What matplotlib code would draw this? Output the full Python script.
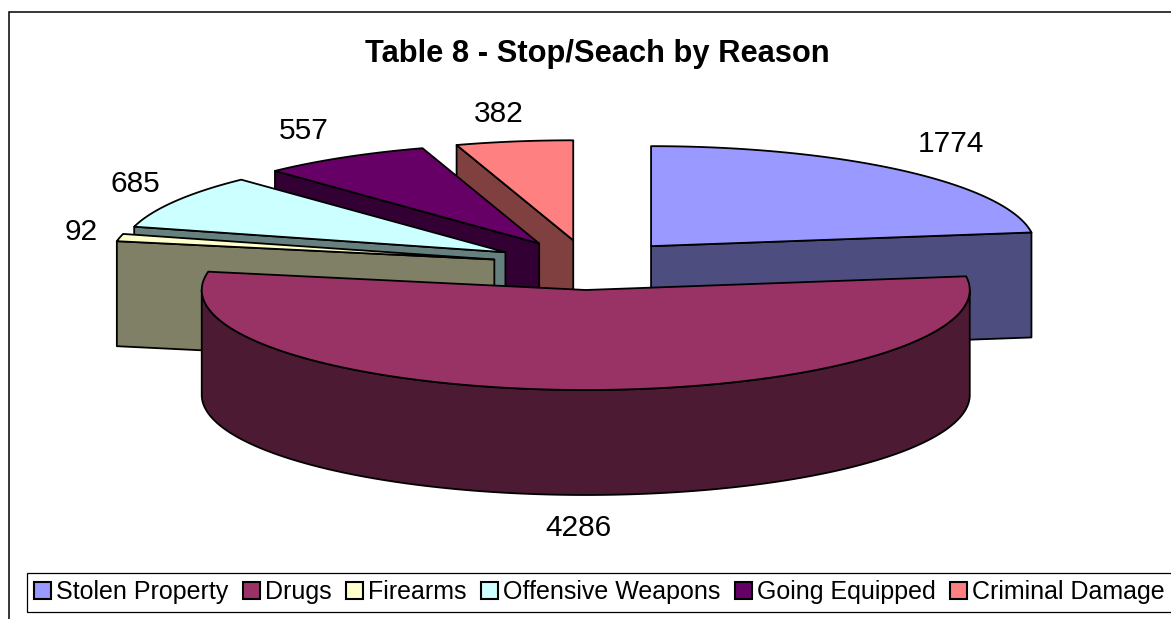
#!/usr/bin/env python3

import numpy as np
import matplotlib
matplotlib.use("Agg")
import matplotlib.pyplot as plt
from matplotlib.patches import Polygon, Rectangle, Patch
plt.rcParams["font.family"] = ["Liberation Sans", "DejaVu Sans"]

title = "Table 8 - Stop/Seach by Reason"
reasons = ["Stolen Property", "Drugs", "Firearms", "Offensive Weapons",
           "Going Equipped", "Criminal Damage"]
counts = [1774, 4286, 92, 685, 557, 382]
top_colors = ["#9999FF", "#993366", "#FFFFCC", "#CCFFFF", "#660066", "#FF8080"]
side_colors = ["#4D4D80", "#4D1A33", "#808066", "#668080", "#330033", "#804040"]

# pie geometry, in pixels of the picture
cx, cy = 588, 265
rx, ry = 384, 100
depth = 105
explode = 0.25
lw = 1.3

# where the number sits relative to the slice's rim
label_dx = [48, 2, -39, -40, -40, -15]
label_dy = [-27, 138, -6, -17, -26, -27]
drawing_order = [5, 4, 3, 2, 0, 1]


def rim(apex, angles):
    # angles are clockwise from 12 o'clock, in degrees
    t = np.radians(angles)
    return np.column_stack([apex[0] + rx * np.sin(t), apex[1] - ry * np.cos(t)])


def add_poly(ax, pts, color):
    ax.add_patch(Polygon(pts, closed=True, facecolor=color, edgecolor="black",
                         linewidth=lw, joinstyle="round"))


def plot_pie():
    fig = plt.figure(figsize=(11.71, 6.19), dpi=100)
    ax = fig.add_axes([0, 0, 1, 1])
    ax.set_xlim(0, 1171)
    ax.set_ylim(619, 0)
    ax.axis("off")

    # chart border runs off the right and bottom of the picture
    ax.add_patch(Rectangle((8.5, 12), 1200, 700, facecolor="white",
                           edgecolor="black", linewidth=1.1))

    edges = np.concatenate([[0], np.cumsum(counts)]) * 360 / sum(counts)

    for i in drawing_order:
        a0, a1 = edges[i], edges[i + 1]
        mid = np.radians((a0 + a1) / 2)
        apex = (cx + explode * rx * np.sin(mid), cy - explode * ry * np.cos(mid))
        drop = np.array([0, depth])

        # flat cut faces that look towards the viewer
        for a, visible in ((a0, np.sin(np.radians(a0)) < -1e-6),
                           (a1, np.sin(np.radians(a1)) > 1e-6)):
            if visible:
                p = rim(apex, [a])[0]
                add_poly(ax, [apex, p, p + drop, np.array(apex) + drop], side_colors[i])

        # round outer wall, only the front half shows
        w0, w1 = max(a0, 90), min(a1, 270)
        if w0 < w1:
            arc = rim(apex, np.linspace(w0, w1, 200))
            add_poly(ax, np.vstack([arc, arc[::-1] + drop]), side_colors[i])

        arc = rim(apex, np.linspace(a0, a1, 200))
        add_poly(ax, np.vstack([[apex], arc]), top_colors[i])

        lx, ly = rim(apex, [np.degrees(mid)])[0]
        ax.text(lx + label_dx[i], ly + label_dy[i], str(counts[i]), fontsize=21.5,
                ha="center", va="center", color="black")

    ax.text(597, 54, title, fontsize=22.2, fontweight="bold", ha="center", va="center")

    handles = [Patch(facecolor=c, edgecolor="black", linewidth=1.5) for c in top_colors]
    leg = ax.legend(handles, reasons, loc="upper left", bbox_to_anchor=(26.5, 572.5),
                    bbox_transform=ax.transData, ncol=6, fontsize=18, frameon=True,
                    fancybox=False, edgecolor="black", framealpha=1, borderaxespad=0,
                    borderpad=0.30, handlelength=0.68, handleheight=0.68,
                    handletextpad=0.2, columnspacing=0.58)
    leg.get_frame().set_linewidth(0.9)

    plt.savefig("out.png", dpi=100)


if __name__ == "__main__":
    plot_pie()
